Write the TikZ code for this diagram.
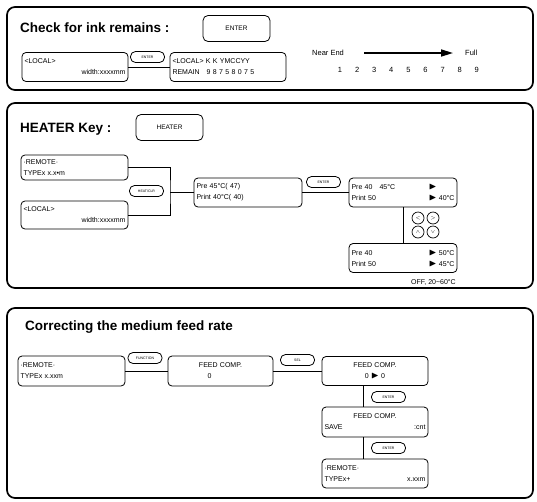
\documentclass[tikz,border=0pt]{standalone}
\usepackage{amsmath}
\usepackage{amssymb}
\usepackage{fontspec}
\setmainfont{Liberation Sans}
\usepackage{tikz}
\usetikzlibrary{arrows.meta}

\newcommand{\dispfont}{\fontsize{7}{11}\selectfont}
\newcommand{\tri}{{\fontsize{10}{10}\selectfont$\blacktriangleright$}}

\begin{document}
\begin{tikzpicture}[x=1pt,y=-1pt,
panel/.style={line width=1.7pt,rounded corners=8pt},
ttl/.style={anchor=west,inner sep=0pt,font=\fontsize{13.5}{16}\selectfont\bfseries},
btn/.style={draw,line width=0.8pt,rounded corners=5pt,minimum width=67pt,minimum height=26pt,font=\fontsize{6.5}{7}\selectfont},
kbd/.style={draw,line width=0.8pt,rounded corners=5pt,minimum width=34pt,minimum height=11pt,inner sep=0pt,font=\fontsize{3.5}{4}\selectfont},
akey/.style={draw,circle,line width=0.7pt,minimum size=12pt,inner sep=0pt,font=\fontsize{5}{5}\selectfont},
dbox/.style n args={2}{draw,line width=0.8pt,rounded corners=4pt,align=left,inner sep=2.5pt,text width=#1pt,minimum height=#2pt,font=\dispfont},
wire/.style={line width=0.8pt},
txt/.style={font=\fontsize{7.5}{9}\selectfont,inner sep=0pt}]
\useasboundingbox (0,0) rectangle (537,501);

\draw[panel] (7,7) rectangle (533,90);
\draw[panel] (7,103) rectangle (533,288);
\draw[panel] (7,308) rectangle (533,498);

% ink remains
\node[ttl] (t1) at (20,28) {Check for ink remains :};
\node[btn] (b1) at (236.5,28.5) {ENTER};
\node[dbox={101}{29}] (loc1) at (75,67) {<LOCAL>\\\hspace*{\fill}width:xxxxmm};
\node[kbd] (k1) at (147.5,57) {ENTER};
\node[dbox={111}{29}] (rem1) at (228,67) {<LOCAL> K K YMCCYY\\REMAIN\hspace{1em}9 8 7 5 8 0 7 5};
\draw[wire] (loc1) -- (rem1);
\node[txt,anchor=west] (ne) at (312,53) {Near End};
\node[txt,anchor=west] (fu) at (465,53) {Full};
\draw[line width=1.6pt,-{Triangle[length=12pt,width=7pt]},shorten <=20pt,shorten >=12pt] (ne.east) -- (fu.west);
\foreach \n in {1,...,9} {
   \node[txt] (n\n) at ({340+(\n-1)*17.1},70) {\n};
}

% heater
\node[ttl] (t2) at (20,129) {HEATER Key :};
\node[btn] (b2) at (169.5,127.5) {HEATER};
\node[dbox={102}{25}] (rem2) at (74.5,167.5) {·REMOTE·\\TYPEx x.x•m};
\node[dbox={102}{28}] (loc2) at (74.5,215) {<LOCAL>\\\hspace*{\fill}width:xxxxmm};
\node[kbd] (k2) at (146.5,191) {HEAT/CLR};
\coordinate (jn) at (170,192.5);
\draw[wire] (rem2.east) -| (jn) |- (loc2.east);
\node[dbox={103}{29}] (pre) at (248,192.5) {Pre 45°C( 47)\\Print 40°C( 40)};
\draw[wire] (jn) -- (pre.west);
\node[kbd] (k3) at (323.5,182) {ENTER};
\node[dbox={103}{29}] (set1) at (403,192.5) {Pre 40\hspace{1em}45°C\hfill\tri\phantom{ 40°C}\\Print 50\hfill\tri\ 40°C};
\draw[wire] (pre) -- (set1);
\foreach \nm/\x/\y/\s in {kl/418/218/<,kr/433/218/>,ku/418/232/\wedge,kd/433/232/\vee} {
   \node[akey] (\nm) at (\x,\y) {$\s$};
}
\node[dbox={103}{29}] (set2) at (403,258) {Pre 40\hfill\tri\ 50°C\\Print 50\hfill\tri\ 45°C};
\draw[wire] (set1) -- (set2);
\node[txt,anchor=east,font=\fontsize{7}{8}\selectfont] (rng) at (456,282) {OFF, 20\textasciitilde60°C};

% feed rate
\node[ttl] (t3) at (25,327) {Correcting the medium feed rate};
\node[dbox={102}{30}] (rem3) at (71.5,371) {·REMOTE·\\TYPEx x.xxm};
\node[kbd] (k4) at (145,358) {FUNCTION};
\node[dbox={100}{30}] (fd1) at (220.5,371) {\hfill FEED COMP.\hfill\null\\\hspace*{37pt}0};
\draw[wire] (rem3) -- (fd1);
\node[kbd] (k5) at (297.5,360) {SEL};
\node[dbox={101}{29},align=center] (fd2) at (375,371) {FEED COMP.\\0 \tri\ 0};
\draw[wire] (fd1) -- (fd2);
\node[kbd] (k6) at (388.5,397) {ENTER};
\node[dbox={101}{30}] (fd3) at (375,422) {\hfill FEED COMP.\hfill\null\\SAVE\hfill:cnt};
\draw[wire] ([xshift=-12pt]fd2.south) -- ([xshift=-12pt]fd3.north);
\node[kbd] (k7) at (388.5,448) {ENTER};
\node[dbox={101}{29}] (rem4) at (375,473.5) {·REMOTE·\\TYPEx+\hfill x.xxm};
\draw[wire] ([xshift=-12pt]fd3.south) -- ([xshift=-12pt]rem4.north);
\end{tikzpicture}
\end{document}
